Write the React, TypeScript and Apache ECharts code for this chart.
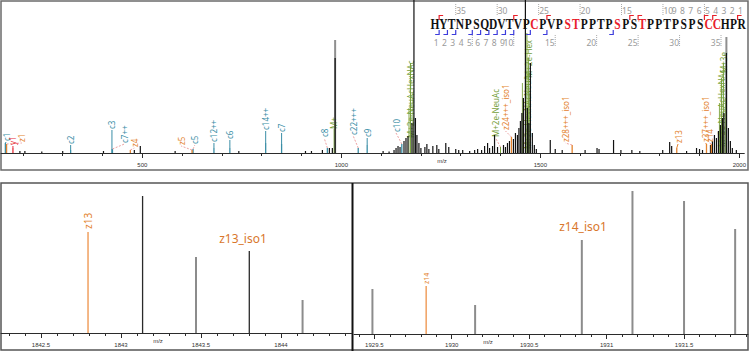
import React, { useEffect, useRef } from "react";
import * as echarts from "echarts";

// ---------- header (peptide sequence) ----------
const SEQUENCE = "HYTNPSQDVTVPCPVPSTPPTPSPSTPPTPSPSCCHPR";
const MODIFIED_RESIDUES = [13, 17, 18, 23, 26, 34, 35];
const OBSERVED_C = [1, 2, 3, 5, 6, 7, 8, 9, 10, 12, 14, 22];
const OBSERVED_Z = [1, 4, 5, 13, 14, 24, 28, 37];
const NUMBERED = [1, 2, 3, 4, 5, 6, 7, 8, 9, 10, 15, 20, 25, 30, 35];

// ---------- full spectrum (m/z, intensity) ----------
const TOP_BLACK_PEAKS = [
  [192.5, 2], [205, 2], [247.5, 1.5], [300, 2], [402.5, 2], [480, 3], [495, 7], [582.5, 2], [742.5, 2],
  [910, 2], [925, 2], [952.5, 3], [970, 5], [977.5, 5], [984.5, 95],
  [1105, 2], [1120, 1.5], [1132.5, 3], [1137.5, 5], [1142.5, 7], [1147.5, 6], [1157.5, 12], [1162.5, 15],
  [1167.5, 17], [1177.5, 30], [1182.5, 153], [1186.25, 35], [1190, 18], [1195, 10], [1200, 5],
  [1210, 6], [1215, 9], [1220, 4], [1230, 7], [1240, 8], [1245, 4], [1262.5, 10], [1270, 6], [1287.5, 4],
  [1295, 3], [1305, 3], [1322.5, 2], [1335, 3], [1342.5, 4], [1352.5, 3], [1360, 7], [1367.5, 10],
  [1372.5, 5], [1380, 7], [1385, 18], [1392.5, 6], [1407.5, 8], [1412.5, 6], [1417.5, 10], [1422.5, 12],
  [1432.5, 14], [1437.5, 20], [1442.5, 18], [1446.25, 25], [1450, 32], [1453.75, 40], [1457.5, 55],
  [1462.5, 153], [1467.5, 45], [1471.25, 30], [1475, 90], [1480, 20], [1485, 8], [1490, 4],
  [1525, 13], [1537.5, 4], [1555, 3], [1612.5, 3], [1642.5, 5], [1647.5, 4], [1684, 13], [1702.5, 3],
  [1730, 3], [1750, 2], [1807.5, 3], [1825, 11], [1830, 7], [1867.5, 2], [1892.5, 5], [1900, 4], [1907.5, 3],
  [1927.5, 8], [1932.5, 12], [1937.5, 18], [1942.5, 15], [1947.5, 22], [1952.5, 28], [1957.5, 35],
  [1961.25, 40], [1967.5, 100], [1972.5, 25], [1977.5, 12], [1982.5, 5], [1992.5, 3],
];
const TOP_GREY_PEAKS = [[984.5, 113], [1967.5, 116]];
const TOP_GREEN_PEAKS = [
  [1170, 45], [1180, 60],
  [1455, 70], [1473.75, 60],
  [1950, 50], [1965, 55],
];

// annotations: [label, m/z, intensity, label m/z, label base intensity]
const C_IONS: [string, number, number, number, number][] = [
  ["c1", 156, 10, 158, 12], ["c2", 320, 3, 320, 9], ["c3", 423.75, 4, 423.75, 24],
  ["c7++", 425, 4, 455, 10], ["c5", 627.5, 4, 632, 9], ["c12++", 680, 5, 680, 11],
  ["c6", 720, 5, 720, 14], ["c14++", 810, 10, 810, 23], ["c7", 850, 9, 850, 21],
  ["c8", 965, 5, 957, 16], ["c22+++", 1042.5, 5, 1030, 18], ["c9", 1065, 8, 1065, 16],
  ["c10", 1152, 9, 1137.5, 21],
];
const Z_IONS: [string, number, number, number, number][] = [
  ["z1", 159, 9, 197.5, 11], ["z4", 470, 3, 480, 6], ["z5", 625, 3, 597.5, 8],
  ["z24+++_iso1", 1427.5, 16, 1412.5, 23], ["z28+++_iso1", 1580, 8, 1562.5, 11],
  ["z13", 1842.8, 5, 1846, 10], ["z37+++_iso1", 1917.5, 9, 1915, 11], ["z14", 1929.8, 9, 1925, 11],
];
const Y_IONS: [string, number, number, number, number][] = [["y1", 175, 5, 175, 8]];
const M_IONS: [string, number, number, number, number][] = [
  ["M+", 982, 24, 980, 24], ["M+2e-NeuAcHexNAc", 1173.75, 90, 1173.75, 15],
  ["M+2e-NeuAc", 1400, 6, 1387.5, 16], ["M+2e-HexNAcNeuAc", 1466.25, 120, 1468, 4],
  ["M+2e-Hex", 1470, 95, 1471, 75], ["M+3e-NeuAcHexNAc", 1955, 75, 1955, 6], ["M+3e", 1960, 90, 1961, 80],
];

// ---------- zoom panels ----------
const ZOOM1_MATCHED = [[1842.794, 101]];
const ZOOM1_DARK = [[1843.135, 137], [1843.802, 82]];
const ZOOM1_GREY = [[1843.469, 76], [1844.135, 33]];
const ZOOM1_LABELS: [string, number, number, string][] = [["z13", 1842.794, 104, "v"], ["z13_iso1", 1843.7625, 89, "h"]];
const ZOOM2_MATCHED = [[1929.835, 48]];
const ZOOM2_GREY = [[1929.488, 45], [1930.151, 29], [1930.84, 94], [1931.167, 143], [1931.5, 133], [1931.83, 105]];
const ZOOM2_LABELS: [string, number, number, string][] = [["z14", 1929.835, 50, "v"], ["z14_iso1", 1930.848, 102, "h"]];

// ---------- axis ticks ----------
const TOP_MAJOR = [500, 1000, 1500, 2000];
const TOP_MINOR = [200, 300, 400, 500, 600, 700, 800, 900, 1000, 1100, 1200, 1300, 1400, 1500, 1600, 1700, 1800, 1900, 2000];
const Z1_MAJOR = [1842.5, 1843, 1843.5, 1844];
const Z1_MINOR = [1842.3, 1842.4, 1842.5, 1842.6, 1842.7, 1842.8, 1842.9, 1843, 1843.1, 1843.2, 1843.3, 1843.4, 1843.5, 1843.6, 1843.7, 1843.8, 1843.9, 1844, 1844.1, 1844.2, 1844.3, 1844.4];
const Z2_MAJOR = [1929.5, 1930, 1930.5, 1931, 1931.5];
const Z2_MINOR = [1929.4, 1929.5, 1929.6, 1929.7, 1929.8, 1929.9, 1930, 1930.1, 1930.2, 1930.3, 1930.4, 1930.5, 1930.6, 1930.7, 1930.8, 1930.9, 1931, 1931.1, 1931.2, 1931.3, 1931.4, 1931.5, 1931.6, 1931.7, 1931.8, 1931.9];

const COL = { c: "#3a8ea6", z: "#e3832e", y: "#e8303a", m: "#76a03a" };
const LABEL_FONT = '"Noto Sans", sans-serif';

function stick(data: number[][], color: string, width: number, xi: number, yi: number, z: number) {
  return {
    type: "custom", xAxisIndex: xi, yAxisIndex: yi, z, silent: true, clip: false,
    data,
    renderItem: (_p: any, api: any) => {
      const b = api.coord([api.value(0), 0]);
      const t = api.coord([api.value(0), api.value(1)]);
      return { type: "line", shape: { x1: b[0], y1: b[1], x2: t[0], y2: t[1] }, style: { stroke: color, lineWidth: width } };
    },
  };
}

function annotations(list: [string, number, number, number, number][], color: string, z: number, stickWidth: number) {
  return {
    type: "custom", xAxisIndex: 0, yAxisIndex: 0, z, silent: true, clip: false,
    data: list.map((a) => [a[1], a[2], a[3], a[4]]),
    renderItem: (p: any, api: any) => {
      const label = list[p.dataIndex][0];
      const b = api.coord([api.value(0), 0]);
      const t = api.coord([api.value(0), api.value(1)]);
      const l = api.coord([api.value(2), api.value(3)]);
      const children: any[] = [
        { type: "line", shape: { x1: b[0], y1: b[1], x2: t[0], y2: t[1] }, style: { stroke: color, lineWidth: stickWidth } },
      ];
      const sameX = Math.abs(l[0] - t[0]) < 1.5;
      if (l[1] < t[1] - 1) {
        children.push({
          type: "line", shape: { x1: t[0], y1: t[1], x2: l[0], y2: l[1] + 1 },
          style: sameX ? { stroke: color, lineWidth: 1 } : { stroke: "#e88a8a", lineWidth: 0.8, lineDash: [2, 1.5] },
        });
      }
      children.push({
        type: "text", x: l[0], y: l[1], rotation: Math.PI / 2,
        style: { text: label, fill: color, fontSize: 8, fontFamily: LABEL_FONT, align: "left", verticalAlign: "middle" },
      });
      return { type: "group", children };
    },
  };
}

function zoomLabels(list: [string, number, number, string][], xi: number, yi: number, vSize: number) {
  return {
    type: "custom", xAxisIndex: xi, yAxisIndex: yi, z: 5, silent: true, clip: false,
    data: list.map((a) => [a[1], a[2]]),
    renderItem: (p: any, api: any) => {
      const item = list[p.dataIndex];
      const c = api.coord([api.value(0), api.value(1)]);
      if (item[3] === "v") {
        return { type: "text", x: c[0], y: c[1], rotation: Math.PI / 2,
          style: { text: item[0], fill: COL.z, fontSize: vSize, fontFamily: LABEL_FONT, align: "left", verticalAlign: "middle" } };
      }
      return { type: "text", x: c[0], y: c[1],
        style: { text: item[0], fill: "#d9772c", fontSize: 12, fontFamily: LABEL_FONT, align: "center", verticalAlign: "bottom" } };
    },
  };
}

function xAxes(grid: number, min: number, max: number, major: number[], minor: number[], margin: number) {
  return [
    {
      gridIndex: grid, type: "value", position: "bottom", min, max, splitLine: { show: false },
      axisLine: { show: true, onZero: false, lineStyle: { color: "#2b2b2b", width: 1 } },
      axisTick: { show: true, customValues: major, length: 5, lineStyle: { color: "#2b2b2b" } },
      axisLabel: { show: true, customValues: major, formatter: (v: number) => String(v), fontSize: 6, color: "#333", margin, fontFamily: "Liberation Sans" },
    },
    {
      gridIndex: grid, type: "value", position: "bottom", min, max, splitLine: { show: false },
      axisLine: { show: false, onZero: false },
      axisTick: { show: true, customValues: minor, length: 3, lineStyle: { color: "#2b2b2b" } },
      axisLabel: { show: false },
    },
  ];
}

function headerGraphics() {
  const X0 = 435, STEP = 8.29;
  const g: any[] = [];
  for (let i = 0; i < SEQUENCE.length; i++) {
    const red = MODIFIED_RESIDUES.includes(i + 1);
    g.push({ type: "text", x: X0 + i * STEP, y: 25, scaleX: 0.82, z: 10,
      style: { text: SEQUENCE[i], fill: red ? "#e8202a" : "#111", font: 'bold 14px "Liberation Serif"', align: "center", verticalAlign: "middle" } });
  }
  const zx = (k: number) => X0 + (37.5 - k) * STEP;
  const cx = (k: number) => X0 + (k - 0.5) * STEP;
  OBSERVED_Z.forEach((k) => {
    const x = zx(k);
    g.push({ type: "polyline", z: 10, shape: { points: [[x, 20], [x, 15.5], [x + 4, 15.5]] }, style: { stroke: "#e8202a", lineWidth: 1.2, fill: "none" } });
  });
  OBSERVED_C.forEach((k) => {
    const x = cx(k);
    g.push({ type: "polyline", z: 10, shape: { points: [[x - 4, 34.5], [x, 34.5], [x, 30]] }, style: { stroke: "#3c3cdc", lineWidth: 1.2, fill: "none" } });
  });
  NUMBERED.forEach((k) => {
    const xz = zx(k), xc = cx(k);
    g.push({ type: "text", x: xz + 0.5, y: 10, z: 10, style: { text: String(k), fill: "#9a9a9a", fontSize: 8.5, fontFamily: LABEL_FONT, align: "left", verticalAlign: "middle" } });
    g.push({ type: "text", x: xc - 0.5, y: 42, z: 10, style: { text: String(k), fill: "#9a9a9a", fontSize: 8.5, fontFamily: LABEL_FONT, align: "right", verticalAlign: "middle" } });
    if (k % 5 === 0) {
      g.push({ type: "line", z: 10, shape: { x1: xz, y1: 4, x2: xz, y2: 15 }, style: { stroke: "#aaa", lineWidth: 1, lineDash: [1, 1] } });
      g.push({ type: "line", z: 10, shape: { x1: xc, y1: 35, x2: xc, y2: 46 }, style: { stroke: "#aaa", lineWidth: 1, lineDash: [1, 1] } });
    }
  });
  return g;
}

export default function App() {
  const ref = useRef<HTMLDivElement>(null);
  useEffect(() => {
    if (!ref.current) return;
    const chart = echarts.init(ref.current, undefined, { renderer: "svg" });
    const graphics: any[] = [
      { type: "rect", z: 0, shape: { x: 1, y: 1, width: 747, height: 169 }, style: { fill: "none", stroke: "#6b6b6b", lineWidth: 1.5 } },
      { type: "rect", z: 0, shape: { x: 1, y: 183, width: 747, height: 167 }, style: { fill: "none", stroke: "#555", lineWidth: 1.5 } },
      { type: "line", z: 0, shape: { x1: 352.5, y1: 183, x2: 352.5, y2: 351 }, style: { stroke: "#111", lineWidth: 2 } },
      { type: "text", x: 442, y: 161, style: { text: "m/z", fill: "#333", fontSize: 6, fontFamily: "Liberation Sans", align: "center", verticalAlign: "middle" } },
      { type: "text", x: 158, y: 341, style: { text: "m/z", fill: "#333", fontSize: 6, fontFamily: "Liberation Sans", align: "center", verticalAlign: "middle" } },
      { type: "text", x: 488, y: 342, style: { text: "m/z", fill: "#333", fontSize: 6, fontFamily: "Liberation Sans", align: "center", verticalAlign: "middle" } },
      ...headerGraphics(),
    ];
    chart.setOption({
      animation: false,
      backgroundColor: "#fff",
      grid: [
        { left: 1, right: 1, top: 3, height: 150 },
        { left: 1, width: 351, top: 183, height: 150 },
        { left: 354, width: 394, top: 184, height: 150 },
      ],
      xAxis: [
        ...xAxes(0, 145, 2012.5, TOP_MAJOR, TOP_MINOR, 9),
        ...xAxes(1, 1842.25, 1844.444, Z1_MAJOR, Z1_MINOR, 9),
        ...xAxes(2, 1929.369, 1931.913, Z2_MAJOR, Z2_MINOR, 8),
      ],
      yAxis: [0, 1, 2].map((g) => ({ gridIndex: g, type: "value", min: 0, max: 150, show: false })),
      graphic: { elements: graphics },
      series: [
        stick(TOP_GREY_PEAKS, "#8f8f8f", 2, 0, 0, 1),
        stick(TOP_GREEN_PEAKS, "#8aad55", 1, 0, 0, 1.5),
        annotations(M_IONS, COL.m, 1.8, 1),
        stick(TOP_BLACK_PEAKS, "#111", 1.2, 0, 0, 2),
        annotations(C_IONS, COL.c, 5, 1.3),
        annotations(Z_IONS, COL.z, 5, 1.3),
        annotations(Y_IONS, COL.y, 5, 1.3),
        stick(ZOOM1_GREY, "#8c8c8c", 2, 2, 1, 2),
        stick(ZOOM1_DARK, "#2a2a2a", 1.3, 2, 1, 2),
        stick(ZOOM1_MATCHED, "#f0a060", 1.5, 2, 1, 2),
        zoomLabels(ZOOM1_LABELS, 2, 1, 10),
        stick(ZOOM2_GREY, "#8c8c8c", 2, 4, 2, 2),
        stick(ZOOM2_MATCHED, "#f0a060", 1.5, 4, 2, 2),
        zoomLabels(ZOOM2_LABELS, 4, 2, 7),
      ],
    });
    return () => chart.dispose();
  }, []);
  return (
    <div
      ref={ref}
      style={{ position: "fixed", left: 0, top: 0, width: 749, height: 352, background: "#fff" }}
    />
  );
}
